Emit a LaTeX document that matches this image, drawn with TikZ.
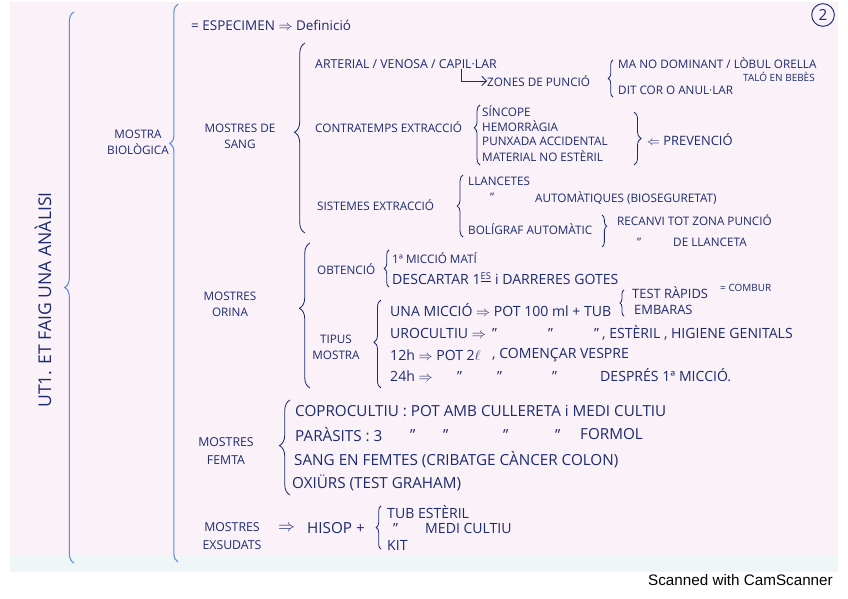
\documentclass[tikz,border=0pt]{standalone}
\usepackage{fontspec}
\setmainfont{Open Sans}
\newfontfamily\scanfont{Liberation Sans}
\usetikzlibrary{decorations.pathreplacing,arrows.meta}
\definecolor{paper}{HTML}{FBF1F8}
\definecolor{band}{HTML}{EEF6F7}
\definecolor{ink}{HTML}{1C2B6E}
\definecolor{lightink}{HTML}{5A8FDA}
\begin{document}
\begin{tikzpicture}[x=0.03cm, y=-0.03cm,
      hw/.style={anchor=west, inner sep=0pt, text=ink, font=\fontsize{10}{12}\selectfont},
      mid/.style={hw, font=\fontsize{12}{14}\selectfont},
      big/.style={hw, font=\fontsize{13}{15}\selectfont},
      small/.style={hw, font=\fontsize{8.5}{10}\selectfont},
      head/.style={inner sep=0pt, text=ink, align=center, font=\fontsize{10}{13.5}\selectfont},
      br/.style={decorate, decoration={brace, amplitude=#1}, draw=ink, line width=0.7pt},
      br/.default=5pt,
      outer/.style={br=#1, draw=lightink, line width=0.9pt},
      outer/.default=8pt]
    \useasboundingbox (0,0) rectangle (848,599);
    \fill[white] (0,0) rectangle (848,599);
    \fill[paper] (10,2) rectangle (838,556);
    \fill[band] (10,556) rectangle (838,572);

    % two outer brackets
    \node[text=ink, rotate=90, inner sep=0pt, font=\fontsize{15}{17}\selectfont] (ut) at (43,300) {UT1. ET FAIG UNA ANÀLISI};
    \draw[outer] (74,563) -- (74,12);
    \node[head] (mb) at (138,142) {MOSTRA\\BIOLÒGICA};
    \draw[outer=7pt, decoration={aspect=0.75}] (178,562) -- (178,4);
    \node[hw, font=\fontsize{11.5}{13}\selectfont] (def) at (191,25) {= ESPECIMEN $\Rightarrow$ Definició};
    \node[draw=ink, circle, thick, minimum size=0.68cm, inner sep=0pt, text=ink,
          font=\fontsize{13}{14}\selectfont] (pg) at (823,15) {2};

    % sang
    \node[head] (sang) at (240,136) {MOSTRES DE\\SANG};
    \draw[br=9pt, decoration={aspect=0.53}] (305,233) -- (305,43);
    \node[hw, font=\fontsize{10.5}{12}\selectfont] (art) at (315,64) {ARTERIAL / VENOSA / CAPIL·LAR};
    \node[hw] (zon) at (487,81) {ZONES DE PUNCIÓ};
    \coordinate (lcor) at (461,0);
    \draw[ink, line width=0.7pt, -{Straight Barb[length=4pt]}] (art.south -| lcor) |- (zon.west);
    \draw[br=4pt] (613,97) -- (613,60);
    \node[hw] (ma) at (618,63) {MA NO DOMINANT / LÒBUL ORELLA};
    \node[small] (talo) at (743,77) {TALÓ EN BEBÈS};
    \node[hw] (dit) at (618,90) {DIT COR O ANUL·LAR};
    \node[hw] (con) at (315,127) {CONTRATEMPS EXTRACCIÓ};
    \draw[br=5pt, decoration={aspect=0.62}] (480,165) -- (480,105);
    \node[hw] (sin) at (482,111) {SÍNCOPE};
    \node[hw] (hem) at (482,126) {HEMORRÀGIA};
    \node[hw] (pun) at (482,141) {PUNXADA ACCIDENTAL};
    \node[hw] (mat) at (482,156) {MATERIAL NO ESTÈRIL};
    \draw[br=6pt] (634,112) -- (634,165);
    \node[hw, font=\fontsize{11}{13}\selectfont] (prev) at (647,140) {$\Leftarrow$ PREVENCIÓ};
    \node[hw] (sis) at (317,205) {SISTEMES EXTRACCIÓ};
    \draw[br=5pt] (463,237) -- (463,175);
    \node[hw] (lla) at (468,181) {LLANCETES};
    \node[hw] (d1) at (490,197) {”};
    \node[hw] (aut) at (535,198) {AUTOMÀTIQUES (BIOSEGURETAT)};
    \node[hw] (bol) at (468,229) {BOLÍGRAF AUTOMÀTIC};
    \draw[br=4pt, decoration={aspect=0.35}] (602,215) -- (602,247);
    \node[hw] (rec) at (617,220) {RECANVI TOT ZONA PUNCIÓ};
    \node[hw] (d2) at (637,242) {”};
    \node[hw] (dll) at (673,242) {DE LLANCETA};

    % orina
    \node[head] (ori) at (230,304) {MOSTRES\\ORINA};
    \draw[br=9pt, decoration={aspect=0.55}] (310,388) -- (310,243);
    \node[hw] (obt) at (317,269) {OBTENCIÓ};
    \draw[br=4pt] (389,287) -- (389,250);
    \node[hw] (mic) at (392,258) {1ª MICCIÓ MATÍ};
    \node[mid] (des) at (392,279) {DESCARTAR 1\textsuperscript{\underline{ES}} i DARRERES GOTES};
    \node[head] (tip) at (336,347) {TIPUS\\MOSTRA};
    \draw[br=6pt, decoration={aspect=0.52}] (381,388) -- (381,300);
    \node[mid] (una) at (390,310) {UNA MICCIÓ $\Rightarrow$ POT 100 ml + TUB};
    \draw[br=3.5pt] (624,316) -- (624,290);
    \node[hw, font=\fontsize{11}{13}\selectfont] (tes) at (632,293) {TEST RÀPIDS};
    \node[small] (com) at (720,288) {= COMBUR};
    \node[hw, font=\fontsize{11}{13}\selectfont] (emb) at (634,310) {EMBARAS};
    \node[mid] (uro) at (390,333) {UROCULTIU $\Rightarrow$};
    \node[mid] (d3) at (492,333) {”};
    \node[mid] (d4) at (548,333) {”};
    \node[mid] (d5) at (594,333) {”};
    \node[mid] (est) at (602,333) {, ESTÈRIL , HIGIENE GENITALS};
    \node[mid] (h12) at (390,355) {12h $\Rightarrow$ POT 2$\ell$};
    \node[mid] (cve) at (492,355) {, COMENÇAR VESPRE};
    \node[mid] (h24) at (390,376) {24h $\Rightarrow$};
    \node[mid] (d6) at (457,376) {”};
    \node[mid] (d7) at (497,376) {”};
    \node[mid] (d8) at (552,376) {”};
    \node[mid] (dpr) at (600,375) {DESPRÉS 1ª MICCIÓ.};

    % femta
    \node[head, font=\fontsize{10.5}{15}\selectfont] (fem) at (226,451) {MOSTRES\\FEMTA};
    \draw[br=9pt, decoration={aspect=0.52}] (290,495) -- (290,400);
    \node[big] (cop) at (295,411) {COPROCULTIU : POT AMB CULLERETA i MEDI CULTIU};
    \node[big] (par) at (295,435) {PARÀSITS : 3};
    \node[big] (d9) at (410,435) {”};
    \node[big] (d10) at (443,435) {”};
    \node[big] (d11) at (503,435) {”};
    \node[big] (d12) at (555,435) {”};
    \node[big] (for) at (580,434) {FORMOL};
    \node[big] (scf) at (294,460) {SANG EN FEMTES (CRIBATGE CÀNCER COLON)};
    \node[big] (oxi) at (292,483) {OXIÜRS (TEST GRAHAM)};

    % exsudats
    \node[head, font=\fontsize{10.5}{15}\selectfont] (exs) at (232,536) {MOSTRES\\EXSUDATS};
    \node[big, font=\fontsize{15}{17}\selectfont] (imp) at (278,528) {$\Rightarrow$};
    \node[big] (his) at (307,528) {HISOP +};
    \draw[br=4pt] (381,549) -- (381,506);
    \node[mid] (tub) at (387,512) {TUB ESTÈRIL};
    \node[mid] (d13) at (393,528) {”};
    \node[mid] (medi) at (425,528) {MEDI CULTIU};
    \node[mid] (kit) at (387,545) {KIT};

    \node[anchor=east, inner sep=0pt, text=black, font=\fontsize{13}{15}\selectfont\scanfont] (cam) at (833,580) {Scanned with CamScanner};
  \end{tikzpicture}
\end{document}
